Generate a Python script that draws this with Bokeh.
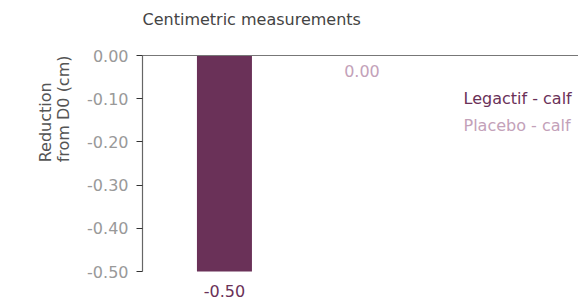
from bokeh.plotting import figure
from bokeh.models import ColumnDataSource, Range1d, FixedTicker, NumeralTickFormatter, Label, Title
from bokeh.core.properties import value
from bokeh.embed import file_html
from bokeh.resources import INLINE

title_text = "Centimetric measurements"
y_label_lines = ["Reduction", "from D0 (cm)"]
categories = ["Legactif - calf", "Placebo - calf"]
values = [-0.50, 0.00]
value_labels = ["-0.50", "0.00"]
colors = ["#6a3158", "#c3a1b9"]
y_ticks = [0.00, -0.10, -0.20, -0.30, -0.40, -0.50]

FONT = "DejaVu Sans"

p = figure(width=578, height=301, output_backend="svg", toolbar_location=None,
           x_range=Range1d(-0.596, 2.575), y_range=Range1d(-0.5694, 0.0),
           x_axis_location="above", min_border_left=142, min_border_right=0,
           min_border_top=55, min_border_bottom=0)
p.outline_line_color = None
p.grid.visible = False
p.background_fill_color = "white"
p.border_fill_color = "white"

# x axis drawn as the zero line on top
xa = p.xaxis[0]
xa.axis_line_color = "#777777"
xa.axis_line_width = 1.2
xa.major_tick_line_color = None
xa.minor_tick_line_color = None
xa.major_label_text_font_size = "0px"
xa.major_label_text_color = None

ya = p.yaxis[0]
ya.ticker = FixedTicker(ticks=y_ticks)
ya.bounds = (min(y_ticks), max(y_ticks))
ya.formatter = NumeralTickFormatter(format="0.00")
ya.axis_line_color = "#666666"
ya.axis_line_width = 1.2
ya.major_tick_line_color = "#333333"
ya.major_tick_out = 6
ya.major_tick_in = 0
ya.minor_tick_line_color = None
ya.major_label_text_font = FONT
ya.major_label_text_font_size = "16px"
ya.major_label_text_color = "#999999"
ya.major_label_standoff = 8

xs = list(range(len(categories)))
src = ColumnDataSource(dict(x=xs, cat=categories, val=values, lab=value_labels,
                            color=colors, off=[19, 15]))
p.vbar(x="x", top=0, bottom="val", width=0.4, fill_color="color", line_color=None, source=src)
p.text(x="x", y="val", text="lab", text_color="color", y_offset="off",
       text_align="center", text_baseline="middle", text_font=value(FONT),
       text_font_size="16px", source=src)

# spacer between the zero line and the title, then the title
p.add_layout(Title(text=" ", standoff=18, text_font_size="1px"), "above")
p.add_layout(Title(text=title_text, align="left", standoff=0,
                   text_font=FONT, text_font_size="16px", text_color="#444444",
                   text_font_style="normal"), "above")

# y axis label (two lines), aligned to the top of the axis
p.add_layout(Title(text="\n".join(y_label_lines), align="right", offset=0, standoff=22,
                   text_font=FONT, text_font_size="16px", text_color="#555555",
                   text_line_height=0.95, text_font_style="normal"), "left")

# legend as colored text
for i, (cat, col) in enumerate(zip(categories, colors)):
    p.add_layout(Label(x=321, y=203 - 27 * i, x_units="screen", y_units="screen",
                       text=cat, text_font=FONT, text_font_size="16px", text_color=col,
                       text_align="left", text_baseline="middle"))

open("out.html", "w").write(file_html(p, INLINE))
